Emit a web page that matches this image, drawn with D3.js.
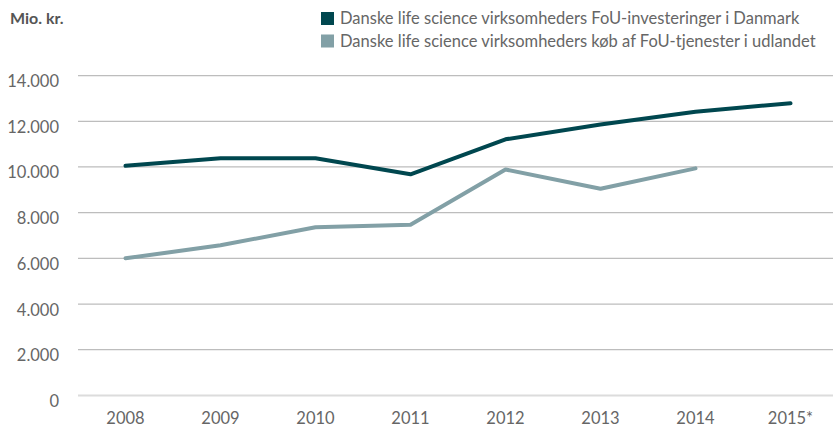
<!DOCTYPE html>
<html>
<head>
<meta charset="utf-8">
<script src="https://cdn.jsdelivr.net/npm/d3@7"></script>
<style>
  body { margin: 0; background: #fff; }
  svg text { font-family: Lato, "Open Sans", sans-serif; }
</style>
</head>
<body>
<svg></svg>
<script>
// Mio. kr. per year
var years = ['2008', '2009', '2010', '2011', '2012', '2013', '2014', '2015*'];
var investDK = [10050, 10380, 10380, 9680, 11210, 11860, 12420, 12790];
var buyAbroad = [6000, 6570, 7360, 7470, 9890, 9050, 9940];
var yTicks = [0, 2000, 4000, 6000, 8000, 10000, 12000, 14000];
var seriesNames = [
    'Danske life science virksomheders FoU-investeringer i Danmark',
    'Danske life science virksomheders køb af FoU-tjenester i udlandet'
];
var colors = ['#00474f', '#82a0a6'];

var svgWidth = 833, svgHeight = 427;

var svg = d3.select('svg')
    .attr('width', svgWidth)
    .attr('height', svgHeight);

var xScale = d3.scaleBand()
    .domain(years)
    .range([78, 838]);

var yScale = d3.scaleLinear()
    .domain([0, 14000])
    .range([395.4, 75.6]);

var fmt = function(d) {
    return d3.format(',')(d).replace(/,/g, '.');
};

// gridlines
svg.selectAll('line.grid')
    .data(yTicks)
    .enter()
    .append('line')
    .attr('class', 'grid')
    .attr('x1', 78)
    .attr('x2', svgWidth)
    .attr('y1', function(d) { return yScale(d); })
    .attr('y2', function(d) { return yScale(d); })
    .attr('stroke', function(d) { return d === 0 ? '#dcdcdc' : '#bdbdbd'; })
    .attr('stroke-width', function(d) { return d === 0 ? 2 : 1.3; });

// y labels
svg.selectAll('text.ylab')
    .data(yTicks)
    .enter()
    .append('text')
    .attr('class', 'ylab')
    .attr('x', 59)
    .attr('y', function(d) { return yScale(d) + 11.5; })
    .attr('text-anchor', 'end')
    .attr('font-size', 16.5)
    .attr('fill', '#666')
    .text(fmt);

// x labels
svg.selectAll('text.xlab')
    .data(years)
    .enter()
    .append('text')
    .attr('class', 'xlab')
    .attr('x', function(d) { return xScale(d) + xScale.bandwidth() / 2; })
    .attr('y', 424)
    .attr('text-anchor', 'middle')
    .attr('font-size', 16.5)
    .attr('fill', '#666')
    .text(function(d) { return d; });

var line = d3.line()
    .x(function(d, i) { return xScale(years[i]) + xScale.bandwidth() / 2; })
    .y(function(d) { return yScale(d); });

[buyAbroad, investDK].forEach(function(data, k) {
    svg.append('path')
        .datum(data)
        .attr('d', line)
        .attr('fill', 'none')
        .attr('stroke', colors[1 - k])
        .attr('stroke-width', 4)
        .attr('stroke-linecap', 'round')
        .attr('stroke-linejoin', 'round');
});

// unit label
svg.append('text')
    .attr('x', 10)
    .attr('y', 24)
    .attr('font-size', 16)
    .attr('font-weight', 'bold')
    .attr('fill', '#555')
    .text('Mio. kr.');

// legend
var legend = svg.selectAll('g.legend')
    .data(seriesNames)
    .enter()
    .append('g')
    .attr('class', 'legend')
    .attr('transform', function(d, i) { return 'translate(321,' + (12 + i * 22.5) + ')'; });

legend.append('rect')
    .attr('width', 13)
    .attr('height', 13)
    .attr('fill', function(d, i) { return colors[i]; });

legend.append('text')
    .attr('x', 19)
    .attr('y', 12)
    .attr('font-size', 16.5)
    .attr('fill', '#666')
    .text(function(d) { return d; });
</script>
</body>
</html>
